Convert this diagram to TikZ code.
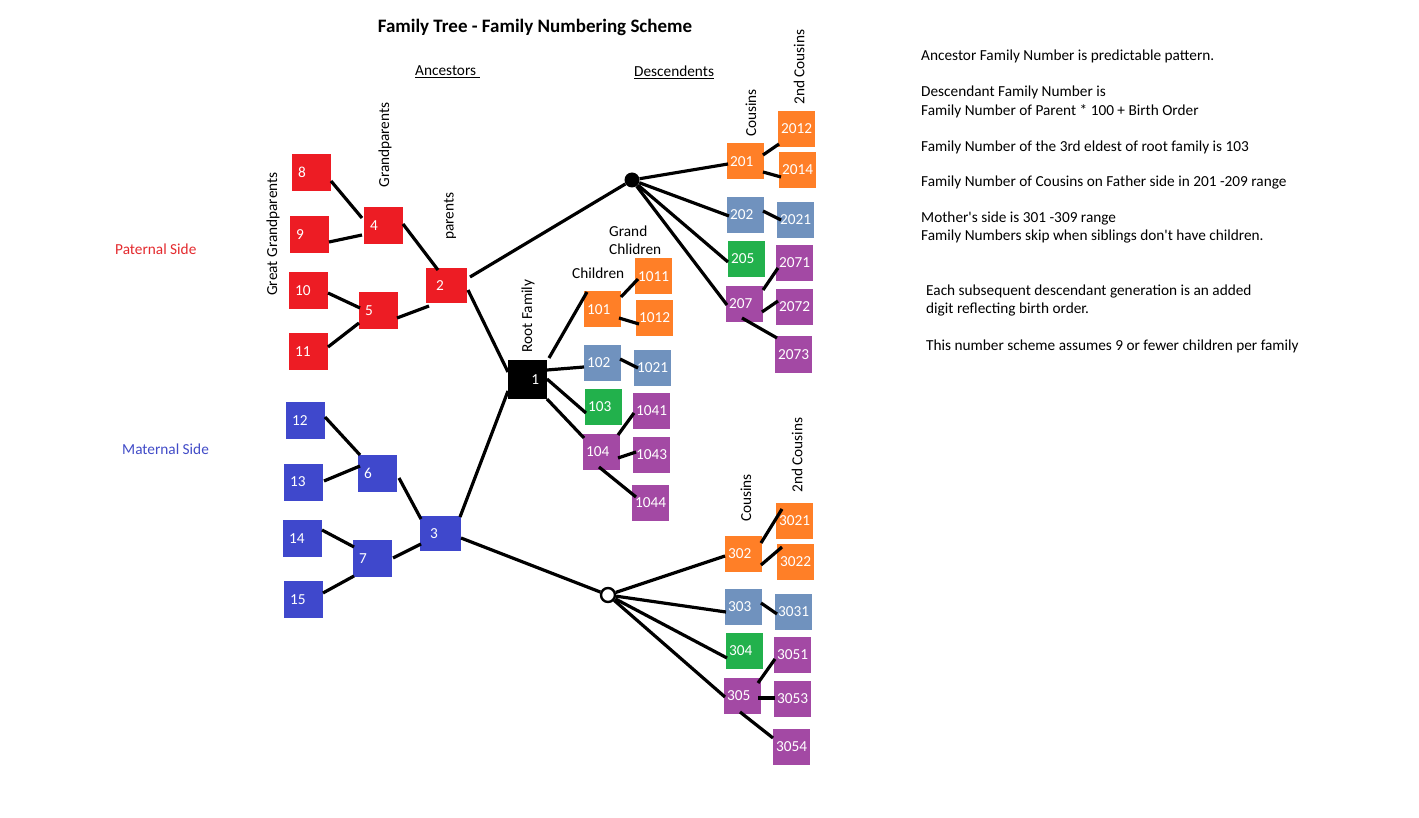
\documentclass[tikz,border=0pt]{standalone}
\usepackage{fontspec}
\setmainfont{Carlito}
\newfontfamily\calfont{Carlito}
\usetikzlibrary{calc}
\definecolor{pred}{RGB}{237,28,36}
\definecolor{pblue}{RGB}{63,72,204}
\definecolor{porange}{RGB}{255,127,39}
\definecolor{pgrey}{RGB}{112,146,190}
\definecolor{pgreen}{RGB}{34,177,76}
\definecolor{ppurple}{RGB}{163,73,164}
\definecolor{sidered}{RGB}{228,42,46}
\definecolor{sideblue}{RGB}{66,76,200}
\begin{document}
\begin{tikzpicture}[x=1pt,y=-1pt,
  every node/.style={font=\calfont\fontsize{15.3pt}{18pt}\selectfont},
  ancbox/.style={fill=#1, text=white, minimum width=39pt, minimum height=37pt, inner xsep=6pt, inner ysep=0pt, text width=27pt, align=left},
  parbox/.style={fill=#1, text=white, minimum width=41pt, minimum height=35pt, inner xsep=10pt, inner ysep=0pt, text width=21pt, align=left},
  rootbox/.style={fill=black, text=white, minimum width=39pt, minimum height=39pt, inner xsep=8pt, inner ysep=0pt, text width=23pt, align=right},
  descbox/.style={fill=#1, text=white, minimum width=37pt, minimum height=36pt, inner xsep=3pt, inner ysep=0pt, text width=31pt, align=left},
  link/.style={line width=3.2pt, black},
  vlab/.style={rotate=90, inner sep=0pt},
  txt/.style={anchor=west, inner sep=0pt}
]
\useasboundingbox (0,0) rectangle (1419,818);
\fill[white] (0,0) rectangle (1419,818);

% titles and labels
\node[font=\calfont\bfseries\fontsize{19pt}{23pt}\selectfont] (title) at (535,27) {Family Tree - Family Numbering Scheme};
\node[txt] (anc) at (415,72) {\underline{Ancestors\ }};
\node[txt] (desc) at (634,72) {\underline{Descendents}};
\node[txt, text=sidered] (pat) at (115,249) {Paternal Side};
\node[txt, text=sideblue] (mat) at (122,449) {Maternal Side};
\node[vlab] (ggp) at (273,234) {Great Grandparents};
\node[vlab] (gp) at (385,145) {Grandparents};
\node[vlab] (par) at (450,216) {parents};
\node[vlab] (rootlab) at (528,316) {Root Family};
\node[txt] (chl) at (572,273) {Children};
\node[anchor=west, inner sep=0pt, align=left] (gch) at (609,240) {Grand\\Chlidren};
\node[vlab] (cous1) at (751,113) {Cousins};
\node[vlab] (cous2) at (799,67) {2nd Cousins};
\node[vlab] (cous3) at (746,498) {Cousins};
\node[vlab] (cous4) at (797,455) {2nd Cousins};

% notes
\node[txt] (t1) at (921,56) {Ancestor Family Number is predictable pattern.};
\node[txt] (t2) at (921,92) {Descendant Family Number is};
\node[txt] (t3) at (921,111) {Family Number of Parent * 100 + Birth Order};
\node[txt] (t4) at (921,147) {Family Number of the 3rd eldest of root family is 103};
\node[txt] (t5) at (921,183) {Family Number of Cousins on Father side in 201 -209 range};
\node[txt] (t6) at (921,219) {Mother's side is 301 -309 range};
\node[txt] (t7) at (921,237) {Family Numbers skip when siblings don't have children.};
\node[txt] (t8) at (926,292) {Each subsequent descendant generation is an added};
\node[txt] (t9) at (926,310) {digit reflecting birth order.};
\node[txt] (t10) at (926,346) {This number scheme assumes 9 or fewer children per family};

% ancestors
\node[ancbox=pred] (n8) at (311.5,172.5) {8};
\node[ancbox=pred] (n9) at (309.5,234.5) {9};
\node[ancbox=pred] (n10) at (308.5,290.5) {10};
\node[ancbox=pred] (n11) at (308.5,351.5) {11};
\node[ancbox=pred] (n4) at (383.5,225.5) {4};
\node[ancbox=pred] (n5) at (378.5,310.5) {5};
\node[parbox=pred] (n2) at (446.5,285.5) {2};
\node[ancbox=pblue] (n12) at (305.5,420.5) {12};
\node[ancbox=pblue] (n13) at (303.5,482) {13};
\node[ancbox=pblue] (n14) at (302.5,538.5) {14};
\node[ancbox=pblue] (n15) at (303.5,599.5) {15};
\node[ancbox=pblue] (n6) at (377.5,473.5) {6};
\node[ancbox=pblue] (n7) at (372.5,558.5) {7};
\node[parbox=pblue] (n3) at (440.5,533.5) {3};
\node[rootbox] (n1) at (527.5,379.5) {1};

% children and grandchildren
\node[descbox=porange] (n101) at (602.5,309.5) {101};
\node[descbox=pgrey] (n102) at (602.5,363) {102};
\node[descbox=pgreen] (n103) at (603.5,406.5) {103};
\node[descbox=ppurple] (n104) at (601.5,451.5) {104};
\node[descbox=porange] (n1011) at (653.5,276.5) {1011};
\node[descbox=porange] (n1012) at (654.5,318) {1012};
\node[descbox=pgrey] (n1021) at (652.5,368) {1021};
\node[descbox=ppurple] (n1041) at (651.5,411) {1041};
\node[descbox=ppurple] (n1043) at (651.5,455) {1043};
\node[descbox=ppurple] (n1044) at (650.5,503) {1044};

% paternal cousins
\node[circle, fill=black, minimum size=15pt, inner sep=0pt] (dot) at (632,180) {};
\node[descbox=porange] (n201) at (745.5,161.5) {201};
\node[descbox=porange] (n2012) at (796.5,129) {2012};
\node[descbox=porange] (n2014) at (797.5,170) {2014};
\node[descbox=pgrey] (n202) at (745.5,215) {202};
\node[descbox=pgrey] (n2021) at (795.5,220) {2021};
\node[descbox=pgreen] (n205) at (746.5,259) {205};
\node[descbox=ppurple] (n2071) at (794.5,263) {2071};
\node[descbox=ppurple] (n207) at (744.5,304) {207};
\node[descbox=ppurple] (n2072) at (794.5,307) {2072};
\node[descbox=ppurple] (n2073) at (793.5,354.5) {2073};

% maternal cousins
\node[circle, draw=black, line width=2.4pt, fill=white, minimum size=14pt, inner sep=0pt] (circ) at (608,595) {};
\node[descbox=porange] (n302) at (743.5,554) {302};
\node[descbox=porange] (n3021) at (794.5,521) {3021};
\node[descbox=porange] (n3022) at (795.5,561.5) {3022};
\node[descbox=pgrey] (n303) at (743.5,607) {303};
\node[descbox=pgrey] (n3031) at (793.5,611.5) {3031};
\node[descbox=pgreen] (n304) at (744.5,651) {304};
\node[descbox=ppurple] (n3051) at (792.5,655) {3051};
\node[descbox=ppurple] (n305) at (742.5,695.5) {305};
\node[descbox=ppurple] (n3053) at (792.5,699) {3053};
\node[descbox=ppurple] (n3054) at (791.5,746.5) {3054};

% ancestor links
\draw[link] ($(n8)+(19.5,8.5)$) -- ($(n4)+(-21.5,-7.5)$);
\draw[link] ($(n9)+(19.5,7.5)$) -- ($(n4)+(-21.5,9.5)$);
\draw[link] ($(n10)+(19.5,2.5)$) -- ($(n5)+(-18.5,-2.5)$);
\draw[link] ($(n11)+(19.5,-4.5)$) -- ($(n5)+(-19.5,12.5)$);
\draw[link] ($(n4)+(19.5,-1.5)$) -- ($(n2)+(-8.5,-15.5)$);
\draw[link] ($(n5)+(18.5,7.5)$) -- ($(n2)+(-17.5,20.5)$);
\draw[link] ($(n2)+(23.5,-8.5)$) -- (dot);
\draw[link] ($(n2)+(21.5,4.5)$) -- ($(n1)+(-19.5,-7.5)$);
\draw[link] ($(n3)+(19.5,-16.5)$) -- ($(n1)+(-19.5,11.5)$);
\draw[link] ($(n12)+(19.5,-3.5)$) -- ($(n6)+(-17.5,-18.5)$);
\draw[link] ($(n13)+(20.5,-1)$) -- ($(n6)+(-17.5,-7.5)$);
\draw[link] ($(n14)+(19.5,-8.5)$) -- ($(n7)+(-18.5,-11.5)$);
\draw[link] ($(n15)+(19.5,-6.5)$) -- ($(n7)+(-18.5,17.5)$);
\draw[link] ($(n6)+(21.5,4.5)$) -- ($(n3)+(-19.5,-14.5)$);
\draw[link] ($(n7)+(20.5,-0.5)$) -- ($(n3)+(-19.5,10.5)$);
\draw[link] ($(n3)+(20.5,4.5)$) -- (circ);

% descendant links
\draw[link] ($(n1)+(21.5,-21.5)$) -- ($(n101)+(-15.5,-17.5)$);
\draw[link] ($(n1)+(19.5,-9.5)$) -- ($(n102)+(-18.5,4)$);
\draw[link] ($(n1)+(19.5,-0.5)$) -- ($(n103)+(-17.5,6.5)$);
\draw[link] ($(n1)+(19.5,19.5)$) -- ($(n104)+(-17.5,-13.5)$);
\draw[link] ($(n101)+(18.5,-12.5)$) -- ($(n1011)+(-15.5,2.5)$);
\draw[link] ($(n101)+(16.5,8.5)$) -- ($(n1012)+(-15.5,6)$);
\draw[link] ($(n102)+(17.5,-4)$) -- ($(n1021)+(-14.5,0)$);
\draw[link] ($(n104)+(16.5,-16.5)$) -- ($(n1041)+(-17.5,2)$);
\draw[link] ($(n104)+(16.5,6.5)$) -- ($(n1043)+(-15.5,-3)$);
\draw[link] ($(n104)+(-2.5,15.5)$) -- ($(n1044)+(-14.5,-6)$);

\draw[link] (dot) -- ($(n201)+(-17.5,2.5)$);
\draw[link] (dot) -- ($(n202)+(-16.5,1)$);
\draw[link] (dot) -- ($(n205)+(-18.5,3)$);
\draw[link] (dot) -- ($(n207)+(-17.5,1)$);
\draw[link] ($(n201)+(17.5,-6.5)$) -- ($(n2012)+(-17.5,15)$);
\draw[link] ($(n201)+(17.5,10.5)$) -- ($(n2014)+(-16.5,7)$);
\draw[link] ($(n202)+(17.5,-4)$) -- ($(n2021)+(-14.5,0)$);
\draw[link] ($(n207)+(18.5,-14)$) -- ($(n2071)+(-16.5,5)$);
\draw[link] ($(n207)+(17.5,8)$) -- ($(n2072)+(-16.5,-6)$);
\draw[link] ($(n207)+(-2.5,14)$) -- ($(n2073)+(-16.5,-16.5)$);

\draw[link] (circ) -- ($(n302)+(-18.5,2)$);
\draw[link] (circ) -- ($(n303)+(-17.5,5)$);
\draw[link] (circ) -- ($(n304)+(-17.5,7)$);
\draw[link] (circ) -- ($(n305)+(-17.5,1.5)$);
\draw[link] ($(n302)+(17.5,-11)$) -- ($(n3021)+(-12.5,-12)$);
\draw[link] ($(n302)+(17.5,11)$) -- ($(n3022)+(-13.5,-14.5)$);
\draw[link] ($(n303)+(17.5,-4)$) -- ($(n3031)+(-16.5,2.5)$);
\draw[link] ($(n305)+(15.5,-12.5)$) -- ($(n3051)+(-17.5,4)$);
\draw[link] ($(n305)+(15.5,2.5)$) -- ($(n3053)+(-17.5,-1)$);
\draw[link] ($(n305)+(-2.5,16.5)$) -- ($(n3054)+(-18.5,-8.5)$);
\end{tikzpicture}
\end{document}
